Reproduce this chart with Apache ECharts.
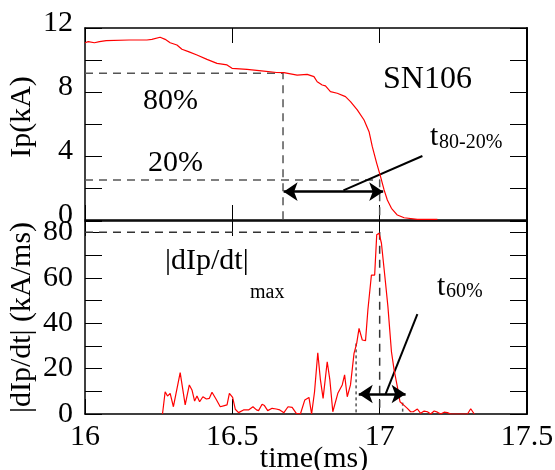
<!DOCTYPE html>
<html>
<head>
<meta charset="utf-8">
<script src="https://cdn.jsdelivr.net/npm/echarts@6/dist/echarts.min.js"></script>
<style>
html,body{margin:0;padding:0;background:#fff;}
#chart{width:555px;height:470px;}
</style>
</head>
<body>
<div id="chart"></div>
<script>
// ---- data ----
var ipTime = [16.0, 16.011, 16.032, 16.049, 16.072, 16.15, 16.21, 16.227, 16.255, 16.272, 16.289, 16.312, 16.329, 16.351, 16.38, 16.414, 16.448, 16.482, 16.499, 16.55, 16.607, 16.65, 16.675, 16.72, 16.754, 16.777, 16.788, 16.805, 16.816, 16.833, 16.856, 16.884, 16.901, 16.924, 16.947, 16.964, 16.975, 16.99, 17.003, 17.015, 17.026, 17.04, 17.06, 17.083, 17.128, 17.196];
var ipValue = [11.08, 11.15, 11.08, 11.15, 11.21, 11.25, 11.25, 11.29, 11.42, 11.29, 11.08, 10.94, 10.67, 10.52, 10.31, 10.04, 9.79, 9.69, 9.48, 9.42, 9.31, 9.22, 9.21, 9.06, 9.1, 8.96, 8.64, 8.44, 8.38, 8.02, 7.92, 7.71, 7.4, 6.88, 6.25, 5.52, 4.58, 3.54, 2.71, 1.88, 1.25, 0.73, 0.31, 0.14, 0.04, 0.04];

var dIpTime = [16.263, 16.272, 16.28, 16.289, 16.3, 16.323, 16.34, 16.354, 16.363, 16.372, 16.38, 16.389, 16.4, 16.412, 16.422, 16.431, 16.445, 16.459, 16.473, 16.482, 16.49, 16.501, 16.51, 16.521, 16.538, 16.555, 16.57, 16.582, 16.589, 16.601, 16.609, 16.62, 16.635, 16.649, 16.661, 16.675, 16.689, 16.703, 16.717, 16.731, 16.746, 16.76, 16.769, 16.779, 16.79, 16.799, 16.808, 16.822, 16.831, 16.841, 16.858, 16.873, 16.881, 16.89, 16.901, 16.913, 16.922, 16.93, 16.941, 16.952, 16.96, 16.972, 16.983, 16.99, 16.998, 17.006, 17.013, 17.02, 17.028, 17.04, 17.049, 17.06, 17.069, 17.081, 17.094, 17.105, 17.114, 17.128, 17.139, 17.151, 17.162, 17.173, 17.185, 17.196, 17.207, 17.219, 17.23, 17.241, 17.298, 17.309, 17.321];
var dIpValue = [0, 9.8, 7.9, 9.1, 3.2, 18.2, 4.0, 12.8, 10.6, 5.7, 7.9, 5.4, 7.6, 6.6, 6.9, 9.6, 6.5, 3.2, 3.7, 4.0, 9.1, 7.3, 2.1, 0.6, 1.8, 1.8, 3.2, 1.8, 1.5, 4.3, 3.7, 1.5, 2.5, 2.2, 1.8, 0.6, 3.2, 2.9, 0.3, 0, 6.2, 7.3, 0, 9.8, 27.0, 15.0, 6.9, 23.0, 15.0, 1.0, 9.1, 12.8, 17.2, 7.6, 12.8, 26.7, 31.1, 37.7, 32.6, 32.3, 45.8, 61.2, 61.2, 78.9, 79.6, 75.2, 66.4, 57.6, 47.3, 27.4, 19.4, 12.0, 5.4, 4.0, 2.5, 1.0, 1.0, 2.2, 0.3, 1.3, 1.0, 0, 1.3, 0.8, 0, 0.8, 0.6, 0, 0, 2.3, 0];

// annotation values
var level80 = 9.17, time80 = 16.672;
var level20 = 2.5, time20 = 17.0;
var dIpMax = 80, timeMax = 17.0;
var time60a = 16.92, level60a = 31.1;
var time60b = 17.078, level60b = 5.0;
var arrowTopLevel = 1.77, arrowTopFrom = 16.674, arrowTopTo = 17.012;
var arrowBotLevel = 8.8, arrowBotFrom = 16.929, arrowBotTo = 17.088;
var leaderTop = [[16.877, 1.85], [17.145, 4.0]];
var leaderBot = [[17.02, 8.8], [17.128, 44]];

var timeTicks = {min: 16, max: 17.5, interval: 0.5};
var ipTicks = {min: 0, max: 12, interval: 2, labelEvery: 4};
var dIpTicks = {min: 0, max: 85, interval: 10, labelEvery: 20, labelMax: 80};

function zip(a, b) { return a.map(function (v, i) { return [v, b[i]]; }); }

var FONT = 'Liberation Serif, Times New Roman, serif';
var chart = echarts.init(document.getElementById('chart'), null, {renderer: 'canvas'});

function xAx(grid, pos, labels) {
  return {
    type: 'value', gridIndex: grid, position: pos,
    min: timeTicks.min, max: timeTicks.max, interval: timeTicks.interval,
    axisLine: {show: true, onZero: false, lineStyle: {color: '#000', width: 1.5}},
    axisTick: {show: true, inside: true, length: 15, lineStyle: {color: '#000', width: 1}},
    axisLabel: labels ? {show: true, fontFamily: FONT, fontSize: 30, color: '#000', margin: 8} : {show: false},
    splitLine: {show: false},
    name: labels ? 'time(ms)' : '', nameLocation: 'middle', nameGap: 30, nameMoveOverlap: false,
    nameTextStyle: {fontFamily: FONT, fontSize: 30, color: '#000', padding: [0, 0, 0, 16]}
  };
}
function yAx(grid, pos, t, labels, name, pad, lw, shiftUp) {
  var lab = {
    show: true, fontFamily: FONT, fontSize: 30, color: '#000', margin: 12,
    formatter: function (v) { return (v % t.labelEvery === 0 && (t.labelMax === undefined || v <= t.labelMax)) ? String(v) : ''; }
  };
  if (shiftUp) { lab.verticalAlign = 'bottom'; lab.lineHeight = shiftUp * 2; }
  return {
    type: 'value', gridIndex: grid, position: pos,
    min: t.min, max: t.max, interval: t.interval,
    axisLine: {show: true, onZero: false, lineStyle: {color: '#000', width: lw}},
    axisTick: {show: true, inside: true, length: 17, lineStyle: {color: '#000', width: 1}},
    axisLabel: labels ? lab : {show: false},
    splitLine: {show: false},
    name: name || '', nameLocation: 'middle', nameGap: 48, nameMoveOverlap: false,
    nameTextStyle: {fontFamily: FONT, fontSize: 30, color: '#000', padding: pad || 0}
  };
}

function guide(name, xi, yi, pts, color, dash, width) {
  return {
    name: name, type: 'line', xAxisIndex: xi, yAxisIndex: yi, data: pts,
    showSymbol: false, symbol: 'none', silent: true, animation: false,
    lineStyle: {color: color, type: dash, width: width || 1.5}, z: 3
  };
}
function arrowMark(level, from, to) {
  return {
    silent: true, animation: false,
    symbol: ['arrow', 'arrow'], symbolSize: [14, 14],
    label: {show: false},
    lineStyle: {color: '#000', width: 2.5, type: 'solid'},
    data: [[{coord: [from, level]}, {coord: [to, level]}]]
  };
}

var s20 = guide('g20', 0, 0, [[timeTicks.min, level20], [time20, level20], [time20, 0]], '#555', [8, 6]);
s20.markLine = arrowMark(arrowTopLevel, arrowTopFrom, arrowTopTo);
var sMax = guide('gmax', 2, 2, [[timeTicks.min, dIpMax], [timeMax, dIpMax], [timeMax, 0]], '#333', [8, 6]);
sMax.markLine = arrowMark(arrowBotLevel, arrowBotFrom, arrowBotTo);

var option = {
  backgroundColor: '#fff',
  animation: false,
  grid: [
    {left: 85, top: 28, width: 442, height: 192, outerBoundsMode: 'none', containLabel: false},
    {left: 85, top: 221, width: 442, height: 193, outerBoundsMode: 'none', containLabel: false}
  ],
  xAxis: [xAx(0, 'bottom', false), xAx(0, 'top', false), xAx(1, 'bottom', true), xAx(1, 'top', false)],
  yAxis: [
    yAx(0, 'left', ipTicks, true, 'Ip(kA)', [0, 0, 0, 14], 1.5, 5),
    yAx(0, 'right', ipTicks, false, '', 0, 2),
    yAx(1, 'left', dIpTicks, true, '|dIp/dt| (kA/ms)', 0, 1.5),
    yAx(1, 'right', dIpTicks, false, '', 0, 2)
  ],
  series: [
    guide('g80', 0, 0, [[timeTicks.min, level80], [time80, level80], [time80, 0]], '#555', [8, 6]),
    s20,
    sMax,
    guide('g60a', 2, 2, [[time60a, level60a], [time60a, 0]], '#555', [3, 3]),
    guide('g60b', 2, 2, [[time60b, level60b], [time60b, 0]], '#555', [3, 3]),
    guide('leadTop', 0, 0, leaderTop, '#000', 'solid', 2),
    guide('leadBot', 2, 2, leaderBot, '#000', 'solid', 2),
    {
      name: 'Ip', type: 'line', xAxisIndex: 0, yAxisIndex: 0, data: zip(ipTime, ipValue),
      showSymbol: false, symbol: 'none', lineStyle: {color: '#ff0000', width: 1.2}, z: 4
    },
    {
      name: 'dIp/dt', type: 'line', xAxisIndex: 2, yAxisIndex: 2, data: zip(dIpTime, dIpValue),
      showSymbol: false, symbol: 'none', lineStyle: {color: '#ff0000', width: 1.2}, z: 4
    }
  ],
  graphic: [
    {type: 'text', left: 383, top: 64, style: {text: 'SN106', font: '32px ' + FONT, fill: '#000'}},
    {type: 'text', left: 143, top: 86, style: {text: '80%', font: '30px ' + FONT, fill: '#000'}},
    {type: 'text', left: 148, top: 148, style: {text: '20%', font: '30px ' + FONT, fill: '#000'}},
    {type: 'text', left: 430, top: 122, style: {text: 't', font: '30px ' + FONT, fill: '#000'}},
    {type: 'text', left: 439, top: 133, style: {text: '80-20%', font: '20px ' + FONT, fill: '#000'}},
    {type: 'text', left: 165, top: 246, style: {text: '|dIp/dt|', font: '30px ' + FONT, fill: '#000'}},
    {type: 'text', left: 250, top: 283, style: {text: 'max', font: '20px ' + FONT, fill: '#000'}},
    {type: 'text', left: 437, top: 272, style: {text: 't', font: '30px ' + FONT, fill: '#000'}},
    {type: 'text', left: 446, top: 282, style: {text: '60%', font: '20px ' + FONT, fill: '#000'}}
  ]
};
chart.setOption(option);
</script>
</body>
</html>
